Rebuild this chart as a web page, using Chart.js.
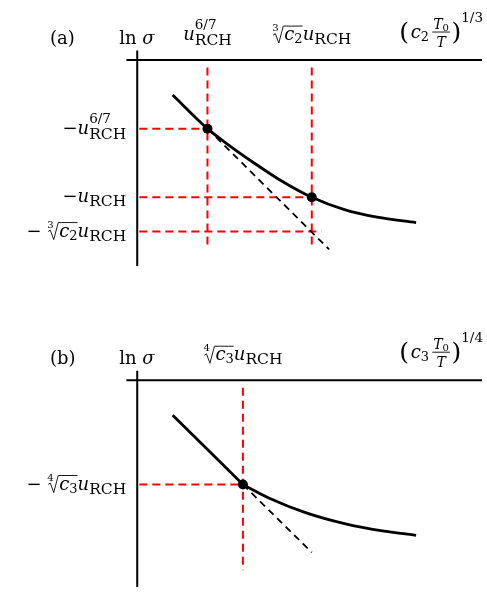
<!DOCTYPE html>
<html>
<head>
<meta charset="utf-8">
<script src="https://cdn.jsdelivr.net/npm/chart.js@4"></script>
<style>
  body { margin: 0; background: #fff; }
  canvas { display: block; }
</style>
</head>
<body>
<canvas id="chart-a" width="487" height="296"></canvas>
<canvas id="chart-b" width="487" height="296"></canvas>
<script>
// panel (a)
const tickXA = [1.01, 2.51];
const tickYA = [-1.0, -2.0, -2.5];
const guideEndA = [1.01, 2.51, 2.65];
const curveXA = [0.51, 1.01, 1.31, 1.68, 2.04, 2.51, 2.98, 3.45, 4.01];
const curveYA = [-0.51, -1.0, -1.235, -1.5, -1.74, -2.0, -2.18, -2.29, -2.37];
const tangentXA = [1.01, 2.76];
const tangentYA = [-1.0, -2.76];
const dotsXA = [1.01, 2.51];
const dotsYA = [-1.0, -2.0];

// panel (b)
const tickXB = [1.52];
const tickYB = [-1.52];
const guideEndB = [1.52];
const steepXB = [0.51, 1.52];
const steepYB = [-0.51, -1.52];
const curveXB = [1.52, 1.9, 2.42, 2.98, 3.55, 4.01];
const curveYB = [-1.52, -1.72, -1.93, -2.09, -2.2, -2.26];
const tangentXB = [1.52, 2.51];
const tangentYB = [-1.52, -2.51];
const dotsXB = [1.52];
const dotsYB = [-1.52];

// text pieces (rich labels drawn by hand)
const SERIF = '"DejaVu Serif", "Liberation Serif", serif';
const uRCH = [{ t: "u", i: 1 }, { t: "RCH", s: 15.5, dy: 4 }];
const u67 = [{ t: "u", i: 1 }, { sup: [{ t: "6/7", s: 13.5 }], sub: [{ t: "RCH", s: 15.5 }] }];
const root3c2 = { root: "3", body: [{ t: "c", i: 1 }, { t: "2", s: 13, dy: 3 }] };
const root4c3 = { root: "4", body: [{ t: "c", i: 1 }, { t: "3", s: 13, dy: 3 }] };
const frac = [[{ t: "T", i: 1, s: 14 }, { t: "0", s: 10, dy: 2 }], [{ t: "T", i: 1, s: 14 }]];

const xLabelsA = [u67, [root3c2, ...uRCH]];
const yLabelsA = [[{ t: "−" }, ...u67], [{ t: "−" }, ...uRCH], [{ t: "− " }, root3c2, ...uRCH]];
const titleA = [{ t: "(", s: 25, dy: 2 }, { t: " ", s: 5 }, { t: "c", i: 1 }, { t: "2", s: 13, dy: 3 }, { t: " ", s: 10 },
  { frac }, { t: " ", s: 5 }, { t: ")", s: 25, dy: 2 }, { t: "1/3", s: 13.5, dy: -16 }];

const xLabelsB = [[root4c3, ...uRCH]];
const yLabelsB = [[{ t: "− " }, root4c3, ...uRCH]];
const titleB = [{ t: "(", s: 25, dy: 2 }, { t: " ", s: 5 }, { t: "c", i: 1 }, { t: "3", s: 13, dy: 3 }, { t: " ", s: 10 },
  { frac }, { t: " ", s: 5 }, { t: ")", s: 25, dy: 2 }, { t: "1/4", s: 13.5, dy: -16 }];

const lnSigma = [{ t: "ln " }, { t: "σ", i: 1 }];

function font(it) {
  return (it.i ? "italic " : "") + (it.s || 18) + "px " + SERIF;
}

function measure(ctx, items) {
  let w = 0;
  for (const it of items) {
    if (it.frac) w += Math.max(measure(ctx, it.frac[0]), measure(ctx, it.frac[1])) + 2;
    else if (it.sup) w += Math.max(measure(ctx, it.sup), measure(ctx, it.sub));
    else if (it.root) w += 12 + measure(ctx, it.body);
    else {
      ctx.font = font(it);
      w += ctx.measureText(it.t).width;
    }
  }
  return w;
}

function drawRich(ctx, items, x, y) {
  for (const it of items) {
    if (it.frac) {
      const wn = measure(ctx, it.frac[0]);
      const wd = measure(ctx, it.frac[1]);
      const w = Math.max(wn, wd) + 2;
      drawRich(ctx, it.frac[0], x + (w - wn) / 2, y - 9);
      drawRich(ctx, it.frac[1], x + (w - wd) / 2, y + 9);
      ctx.fillRect(x, y - 6.5, w, 0.9);
      x += w;
    } else if (it.sup) {
      drawRich(ctx, it.sup, x, y - 11);
      drawRich(ctx, it.sub, x, y + 5);
      x += Math.max(measure(ctx, it.sup), measure(ctx, it.sub));
    } else if (it.root) {
      ctx.font = font({ s: 10 });
      ctx.fillText(it.root, x, y - 9);
      const bw = measure(ctx, it.body);
      ctx.beginPath();
      ctx.moveTo(x + 1, y - 5);
      ctx.lineTo(x + 3, y - 6.5);
      ctx.lineTo(x + 6.5, y + 3);
      ctx.lineTo(x + 11, y - 14);
      ctx.lineTo(x + 12 + bw, y - 14);
      ctx.lineWidth = 0.9;
      ctx.stroke();
      drawRich(ctx, it.body, x + 12, y);
      x += 12 + bw;
    } else {
      ctx.font = font(it);
      ctx.fillText(it.t, x, y + (it.dy || 0));
      x += ctx.measureText(it.t).width;
    }
  }
}

function labelPlugin(p) {
  return {
    id: "labels",
    afterDraw(chart) {
      const ctx = chart.ctx;
      const sx = chart.scales.x;
      const sy = chart.scales.y;
      const ax = sx.getPixelForValue(0);
      const ay = sy.getPixelForValue(0);
      ctx.save();
      ctx.fillStyle = "#000";
      ctx.strokeStyle = "#000";
      ctx.textBaseline = "alphabetic";
      p.xTicks.forEach((v, i) => {
        const w = measure(ctx, p.xLabels[i]);
        drawRich(ctx, p.xLabels[i], sx.getPixelForValue(v) - w / 2, ay - 20);
      });
      p.yTicks.forEach((v, i) => {
        const w = measure(ctx, p.yLabels[i]);
        drawRich(ctx, p.yLabels[i], ax - 11 - w, sy.getPixelForValue(v) + 5);
      });
      drawRich(ctx, [{ t: p.tag }], 50, ay - 16);
      drawRich(ctx, lnSigma, ax - 18, ay - 16);
      drawRich(ctx, p.title, 483 - measure(ctx, p.title), ay - 22);
      ctx.restore();
    },
  };
}

const pts = (xs, ys) => xs.map((x, i) => ({ x, y: ys[i] }));

function seg(data, color, width, dash, order) {
  return { data, showLine: true, borderColor: color, borderWidth: width, borderDash: dash,
    pointRadius: 0, tension: 0, order };
}

function makeChart(id, p) {
  const xMin = -135 / 71, xMax = 352 / 71;
  const datasets = [];
  // axes
  datasets.push(seg(pts([-0.155, xMax], [0, 0]), "#000", 2, [], 3));
  datasets.push(seg(pts([0, 0], [0.14, p.axisBottom]), "#000", 2, [], 3));
  // red guides
  p.xTicks.forEach((v) => datasets.push(seg(pts([v, v], [-0.11, p.guideBottom]), "#f00", 2, [8, 5], 4)));
  p.yTicks.forEach((v, i) => datasets.push(seg(pts([0.03, p.guideEnd[i]], [v, v]), "#f00", 2, [8, 5], 4)));
  // tangent
  datasets.push(seg(p.tangent, "#000", 1.8, [7, 5], 2));
  // curves
  p.curves.forEach((c) => {
    const d = seg(c, "#000", 2.8, [], 1);
    d.tension = 0.4;
    d.cubicInterpolationMode = "monotone";
    datasets.push(d);
  });
  datasets.push({ data: p.dots, pointRadius: 5, pointBackgroundColor: "#000", pointBorderWidth: 0, order: 0 });

  return new Chart(document.getElementById(id), {
    type: "scatter",
    data: { datasets },
    options: {
      responsive: false,
      animation: false,
      layout: { padding: 0 },
      plugins: { legend: { display: false }, tooltip: { enabled: false } },
      scales: {
        x: { type: "linear", min: xMin, max: xMax, display: false },
        y: { type: "linear", min: p.yMin, max: p.yMax, display: false },
      },
    },
    plugins: [labelPlugin(p)],
  });
}

makeChart("chart-a", {
  yMin: -239 / 71, yMax: 57 / 71, axisBottom: -3.0, guideBottom: -2.76,
  xTicks: tickXA, yTicks: tickYA, guideEnd: guideEndA,
  xLabels: xLabelsA, yLabels: yLabelsA, title: titleA, tag: "(a)",
  curves: [pts(curveXA, curveYA)],
  tangent: pts(tangentXA, tangentYA),
  dots: pts(dotsXA, dotsYA),
});

makeChart("chart-b", {
  yMin: -214 / 71, yMax: 82 / 71, axisBottom: -214 / 71, guideBottom: -2.77,
  xTicks: tickXB, yTicks: tickYB, guideEnd: guideEndB,
  xLabels: xLabelsB, yLabels: yLabelsB, title: titleB, tag: "(b)",
  curves: [pts(steepXB, steepYB), pts(curveXB, curveYB)],
  tangent: pts(tangentXB, tangentYB),
  dots: pts(dotsXB, dotsYB),
});
</script>
</body>
</html>
